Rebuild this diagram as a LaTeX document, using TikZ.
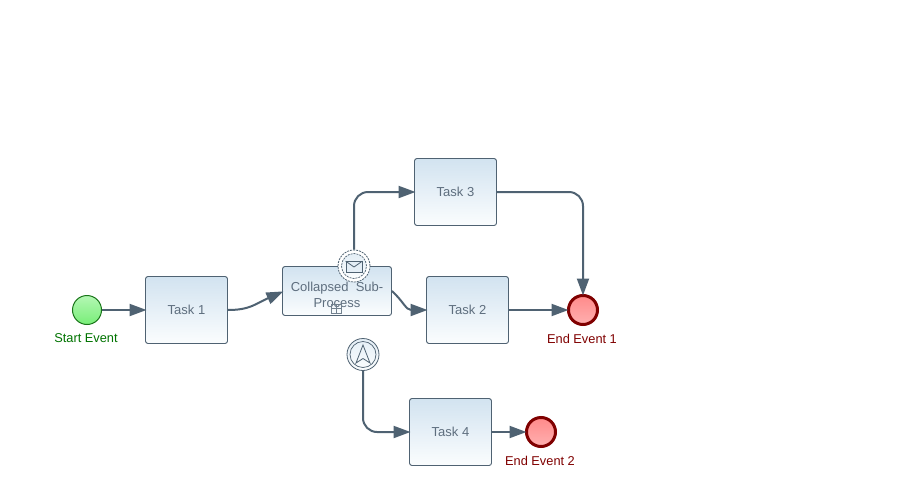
\documentclass[tikz,border=0pt]{standalone}
\usepackage{fontspec}
\setmainfont{Liberation Sans}
\usetikzlibrary{arrows.meta,calc}
\definecolor{linec}{HTML}{4F6272}
\definecolor{txt}{HTML}{5E6E7E}
\definecolor{boxtop}{HTML}{D2E3F0}
\definecolor{boxbot}{HTML}{FBFDFE}
\definecolor{gtop}{HTML}{B4F7B4}
\definecolor{gbot}{HTML}{78EE78}
\definecolor{rtop}{HTML}{FF8A8A}
\definecolor{rbot}{HTML}{FFB0B0}
\tikzset{
 x=1pt,y=-1pt,
 flow/.style={draw=linec,line width=2pt,-{Triangle[length=17pt,width=12pt]},rounded corners=14pt,shorten >=-1.5pt},
 task/.style={draw=linec,line width=0.9pt,rounded corners=2.5pt,top color=boxtop,bottom color=boxbot,text=txt,font=\fontsize{13}{16}\selectfont,align=center,inner sep=0pt,minimum width=82pt,minimum height=67pt},
 startev/.style={circle,draw=green!40!black!90,line width=1pt,top color=gtop,bottom color=gbot,minimum size=29pt,inner sep=0pt},
 endev/.style={circle,draw=red!50!black,line width=3pt,top color=rtop,bottom color=rbot,minimum size=29pt,inner sep=0pt},
 evlabel/.style={font=\fontsize{12.8}{15}\selectfont,inner sep=0pt},
 inter/.style={circle,draw=linec,line width=0.8pt,top color=boxtop,bottom color=boxbot,minimum size=32pt,inner sep=0pt},
 glyph/.style={draw=linec,line width=0.8pt},
}
\begin{document}
\begin{tikzpicture}
\useasboundingbox (0,0) rectangle (922,477);
\fill[white] (0,0) rectangle (922,477);
\node[startev] (start) at (87,310) {};
\node[evlabel,text=green!45!black] (startl) at (86,338) {Start Event};
\node[task] (t1) at (186.5,310) {\raisebox{-1.2pt}{Task 1}};
\node[task,minimum width=109pt,minimum height=49pt] (sub) at (337,291) {};
\node[text=txt,font=\fontsize{13}{16}\selectfont,align=center,inner sep=0pt] (subl) at (337,295) {Collapsed\ \ Sub-\\Process};
\node[task] (t2) at (467.5,310) {\raisebox{-1.2pt}{Task 2}};
\node[task] (t3) at (455.5,192) {\raisebox{-1.2pt}{Task 3}};
\node[task] (t4) at (450.5,432) {\raisebox{-1.2pt}{Task 4}};
\node[endev] (e1) at (583,310) {};
\node[evlabel,text=red!50!black] (e1l) at (582,339) {End Event 1};
\node[endev] (e2) at (541,432) {};
\node[evlabel,text=red!50!black] (e2l) at (540,461) {End Event 2};
% sub-process marker
\node[draw=linec!80!white,line width=0.6pt,minimum width=10pt,minimum height=9pt,inner sep=0pt] (mk) at (336.5,308.5) {};
\draw[linec!80!white,line width=0.6pt] (mk.north) -- (mk.south) (mk.west) -- (mk.east);
% message boundary event
\node[inter,dash pattern=on 2pt off 1pt,top color=white,bottom color=white] (bev) at (354,266) {};
\node[circle,draw=linec,line width=0.7pt,dash pattern=on 2pt off 1pt,top color=boxtop!60!white,bottom color=boxbot,minimum size=25pt,inner sep=0pt] (bevin) at (354,266) {};
\node[glyph,fill=boxtop!60!white,minimum width=16pt,minimum height=11pt,inner sep=0pt] (env) at (354,267) {};
\draw[glyph] (env.north west) -- (env.center) -- (env.north east);
% link event
\node[inter,top color=boxtop!60!white] (lev) at (363,354.5) {};
\node[circle,draw=linec,line width=0.7pt,minimum size=26pt,inner sep=0pt] (levin) at (363,354.5) {};
\draw[glyph] (363,345) -- (370,363) -- (363,358.5) -- (356,363) -- cycle;
% flows
\draw[flow] (start) -- (t1);
\draw[flow] (t1.east) .. controls (250,310) and (255,304) .. (sub.west |- 0,292);
\draw[flow] (sub.east |- 0,291) .. controls (403,301) and (406,310) .. (t2.west);
\draw[flow] (t2) -- (e1);
\draw[flow] (bev.north) |- (t3.west);
\draw[flow] (t3.east) -| (e1.north);
\draw[flow] (lev.south) |- (t4.west);
\draw[flow] (t4) -- (e2);
\end{tikzpicture}
\end{document}
